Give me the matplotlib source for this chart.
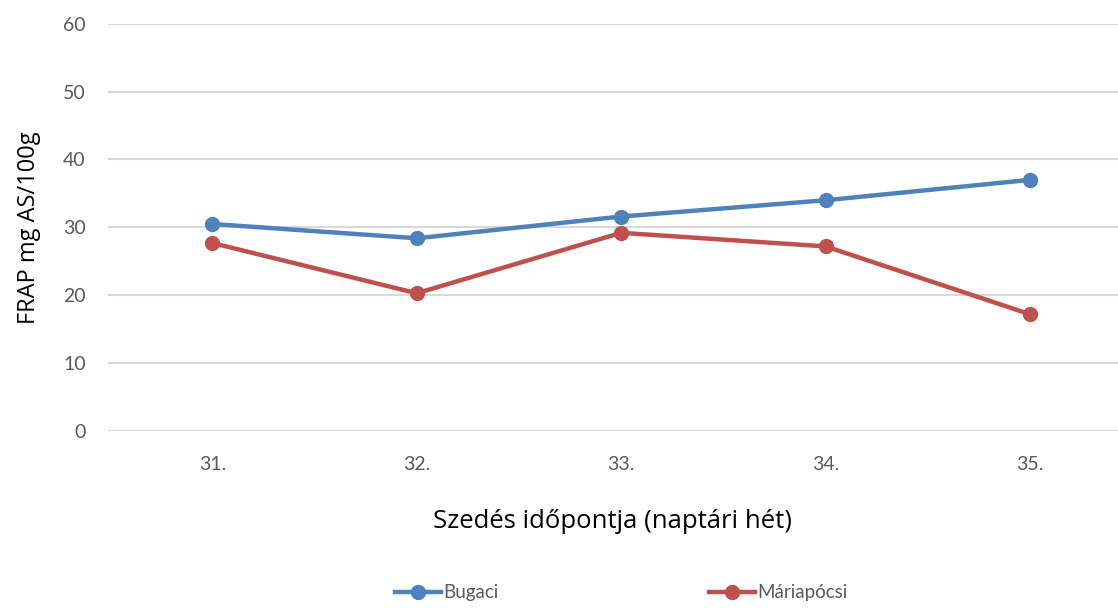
import matplotlib.pyplot as plt

plt.rcParams['font.family'] = ['Lato', 'DejaVu Sans']

# Harvest weeks and FRAP values (mg AS/100g)
weeks = ['31.', '32.', '33.', '34.', '35.']
bugaci = [30.5, 28.4, 31.6, 34.0, 37.0]
mariapocsi = [27.7, 20.3, 29.2, 27.2, 17.2]

text_color = '#595959'
title_font = ['Open Sans', 'DejaVu Sans']

fig = plt.figure(figsize=(11.18, 6.08), dpi=100)
ax = fig.add_axes([0.0966, 0.291, 0.9034, 0.670])

x = range(len(weeks))
ax.plot(x, bugaci, color='#4F81BD', lw=3.2, marker='o', ms=10, label='Bugaci')
ax.plot(x, mariapocsi, color='#C0504D', lw=3.2, marker='o', ms=10, label='Máriapócsi')

ax.set_ylim(0, 60)
ax.set_yticks(range(0, 61, 10))
ax.set_xlim(-0.51, 4.43)
ax.set_xticks(list(x))
ax.set_xticklabels(weeks)

ax.grid(axis='y', color='#D9D9D9', lw=1.5)
ax.set_axisbelow(True)
for s in ax.spines.values():
    s.set_visible(False)
ax.tick_params(length=0, labelsize=14, colors=text_color)
ax.tick_params(axis='x', pad=18)
ax.tick_params(axis='y', pad=16)

ax.set_ylabel('FRAP mg AS/100g', fontsize=17, color='black',
              labelpad=16, family=title_font)
ax.set_xlabel('Szedés időpontja (naptári hét)', fontsize=18.5, color='black',
              labelpad=26, family=title_font)

fig.legend(loc='center', bbox_to_anchor=(0.5555, 0.025), ncol=2, frameon=False,
           fontsize=13.5, labelcolor=text_color, handlelength=2.5,
           handletextpad=0.1, columnspacing=11.2)

fig.savefig('out.png', dpi=100)
